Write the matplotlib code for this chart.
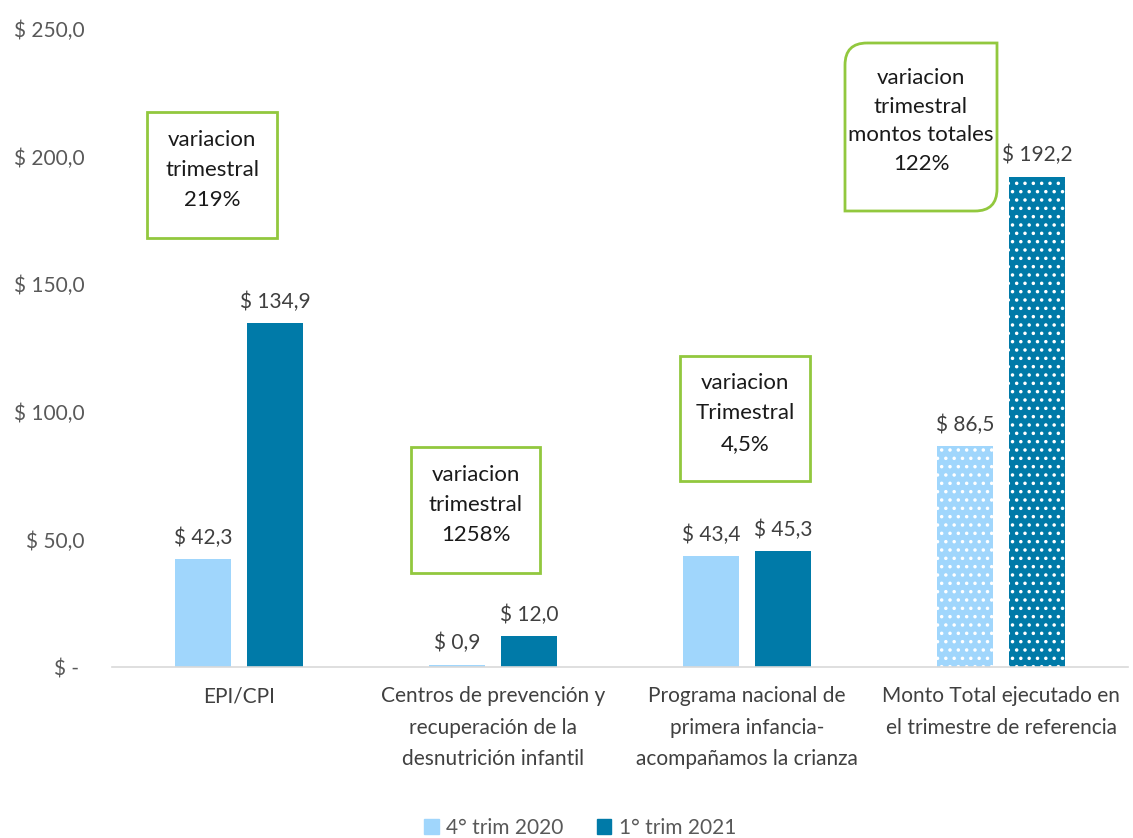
import numpy as np
import matplotlib.pyplot as plt
from matplotlib.patches import Rectangle, PathPatch
from matplotlib.path import Path

plt.rcParams['font.family'] = ['Lato', 'DejaVu Sans']
plt.rcParams['hatch.linewidth'] = 1.3

categorias = ["EPI/CPI",
              "Centros de prevención y\nrecuperación de la\ndesnutrición infantil",
              "Programa nacional de\nprimera infancia-\nacompañamos la crianza",
              "Monto Total ejecutado en\nel trimestre de referencia"]
trim_2020 = [42.3, 0.9, 43.4, 86.5]
trim_2021 = [134.9, 12.0, 45.3, 192.2]
series = ["4° trim 2020", "1° trim 2021"]
yticks = [0, 50, 100, 150, 200, 250]
ytick_labels = ["$ - ", "$ 50,0", "$ 100,0", "$ 150,0", "$ 200,0", "$ 250,0"]

# cajas de variacion (texto, x0, y0, x1, y1 en pixeles de la figura, desde arriba)
cajas = [
    ("variacion\ntrimestral\n219%", 147, 112, 277, 238),
    ("variacion\ntrimestral\n1258%", 411, 447, 540, 573),
    ("variacion\nTrimestral\n4,5%", 680, 356, 810, 481),
]
caja_total = ("variacion\ntrimestral\nmontos totales\n122%", 845, 43, 997, 211)

c_light = "#A0D6FC"
c_dark = "#007AA8"
c_green = "#92C83E"
c_text = "#404040"

W, H = 1133, 838
fig = plt.figure(figsize=(W / 100, H / 100), dpi=100)
ax = fig.add_axes([112 / W, 1 - 667 / H, (1128 - 112) / W, (667 - 29) / H])

x = np.arange(len(categorias))
bw = 0.22
gap = 0.063
for i in range(len(categorias)):
    hatch = '..' if i == len(categorias) - 1 else None
    b1 = ax.bar(x[i] - bw / 2 - gap / 2, trim_2020[i], bw, color=c_light,
                edgecolor='white' if hatch else c_light, linewidth=0, hatch=hatch)
    b2 = ax.bar(x[i] + bw / 2 + gap / 2, trim_2021[i], bw, color=c_dark,
                edgecolor='white' if hatch else c_dark, linewidth=0, hatch=hatch)
    for b, v in ((b1[0], trim_2020[i]), (b2[0], trim_2021[i])):
        ax.annotate("$ " + f"{v:.1f}".replace(".", ","),
                    (b.get_x() + b.get_width() / 2, v), xytext=(0, 8),
                    textcoords="offset points", ha="center", va="bottom",
                    fontsize=15, color=c_text)

ax.set_xlim(-0.5, len(categorias) - 0.5)
ax.set_ylim(0, 250)
ax.set_yticks(yticks)
ax.set_yticklabels(ytick_labels, fontsize=15, color="#595959")
ax.set_xticks(x)
ax.set_xticklabels(categorias, fontsize=15, color=c_text, linespacing=1.72)
ax.tick_params(axis='both', length=0)
ax.tick_params(axis='y', pad=20)
ax.tick_params(axis='x', pad=14)
for s in ['top', 'right', 'left']:
    ax.spines[s].set_visible(False)
ax.spines['bottom'].set_color("#D9D9D9")
ax.spines['bottom'].set_linewidth(1.2)


def px(xp, yp):
    return xp / W, 1 - yp / H


for txt, x0, y0, x1, y1 in cajas:
    fx0, fy1 = px(x0, y0)
    fx1, fy0 = px(x1, y1)
    fig.patches.append(Rectangle((fx0, fy0), fx1 - fx0, fy1 - fy0,
                                 transform=fig.transFigure, facecolor='white',
                                 edgecolor=c_green, linewidth=2, zorder=5))
    fig.text((fx0 + fx1) / 2, (fy0 + fy1) / 2 + 0.006, txt, ha='center', va='center',
             fontsize=16, color='#1a1a1a', linespacing=1.65, zorder=6)

# caja con esquinas redondeadas en diagonal
txt, x0, y0, x1, y1 = caja_total
r = 22
verts = [(x0 + r, y0), (x1, y0), (x1, y1 - r), (x1, y1), (x1 - r, y1),
         (x0, y1), (x0, y0 + r), (x0, y0), (x0 + r, y0)]
codes = [Path.MOVETO, Path.LINETO, Path.LINETO, Path.CURVE3, Path.CURVE3,
         Path.LINETO, Path.LINETO, Path.CURVE3, Path.CURVE3]
path = Path([px(a, b) for a, b in verts], codes)
fig.patches.append(PathPatch(path, transform=fig.transFigure, facecolor='white',
                             edgecolor=c_green, linewidth=2, zorder=5))
fx, fy = px((x0 + x1) / 2, (y0 + y1) / 2 - 6)
fig.text(fx, fy, txt, ha='center', va='center', fontsize=16, color='#1a1a1a',
         linespacing=1.55, zorder=6)

handles = [Rectangle((0, 0), 1, 1, color=c_light), Rectangle((0, 0), 1, 1, color=c_dark)]
leg = fig.legend(handles, series, loc='center', bbox_to_anchor=(580 / W, 1 - 828 / H),
                 ncol=2, frameon=False, fontsize=15, handlelength=0.7, handleheight=0.7,
                 handletextpad=0.35, columnspacing=1.6)
for t in leg.get_texts():
    t.set_color("#595959")

fig.savefig("out.png", dpi=100)
